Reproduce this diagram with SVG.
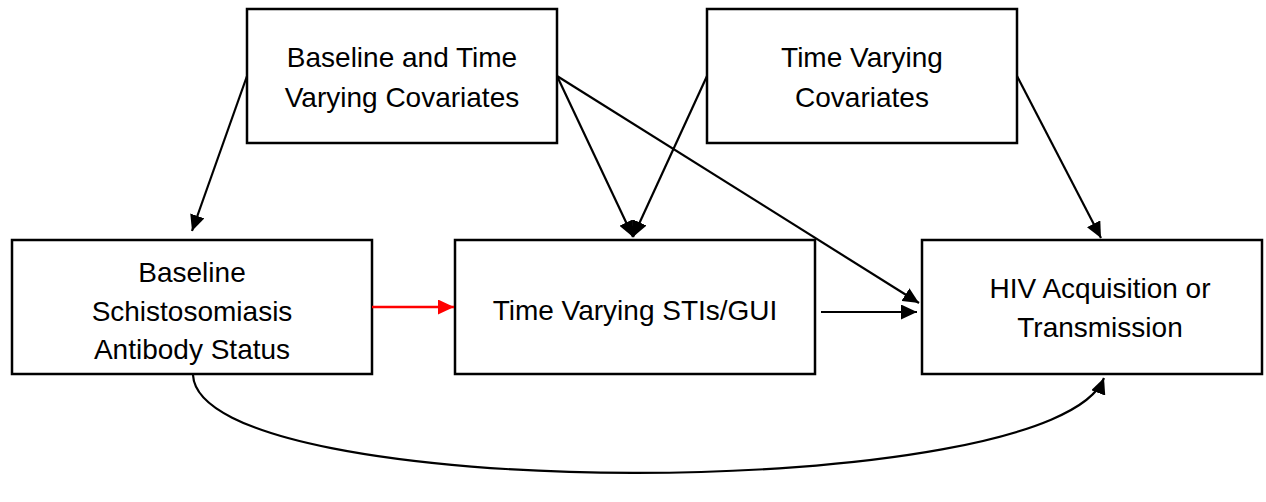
<svg xmlns="http://www.w3.org/2000/svg" width="1266" height="502" viewBox="0 0 1266 502">
<defs>
<style>
.box{fill:#fff;stroke:#000;stroke-width:2.5}
.lbl{font-family:"Liberation Sans",Arial,sans-serif;font-size:28px;fill:#000;text-anchor:middle}
.con{fill:none;stroke:#000;stroke-width:2.2}
.red{fill:none;stroke:#f00;stroke-width:2.4}
</style>
<marker id="ah" markerUnits="userSpaceOnUse" markerWidth="17" markerHeight="15" refX="16" refY="7.5" orient="auto"><path d="M0,0 L16,7.5 L0,15 z" fill="#000"/></marker>
<marker id="ahr" markerUnits="userSpaceOnUse" markerWidth="17" markerHeight="15" refX="16" refY="7.5" orient="auto"><path d="M0,0 L16,7.5 L0,15 z" fill="#f00"/></marker>
</defs>
<rect width="1266" height="502" fill="#fff"/>
<g id="n1"><rect class="box" x="247" y="9" width="310" height="134"/><text class="lbl" x="402" y="67">Baseline and Time</text><text class="lbl" x="402" y="107">Varying Covariates</text></g>
<g id="n2"><rect class="box" x="707" y="9" width="310" height="134"/><text class="lbl" x="862" y="67">Time Varying</text><text class="lbl" x="862" y="107">Covariates</text></g>
<g id="n3"><rect class="box" x="12" y="240" width="360" height="134"/><text class="lbl" x="192" y="282">Baseline</text><text class="lbl" x="192" y="321">Schistosomiasis</text><text class="lbl" x="192" y="359">Antibody Status</text></g>
<g id="n4"><rect class="box" x="455" y="240" width="360" height="134"/><text class="lbl" x="635" y="320">Time Varying STIs/GUI</text></g>
<g id="n5"><rect class="box" x="922" y="240" width="340" height="134"/><text class="lbl" x="1100" y="298">HIV Acquisition or</text><text class="lbl" x="1100" y="337">Transmission</text></g>
<g id="connectors">
<line class="con" x1="247" y1="76" x2="192" y2="231" marker-end="url(#ah)"/>
<line class="con" x1="557" y1="76" x2="633" y2="237" marker-end="url(#ah)"/>
<line class="con" x1="707" y1="76" x2="633" y2="237" marker-end="url(#ah)"/>
<line class="con" x1="557" y1="76" x2="919" y2="303" marker-end="url(#ah)"/>
<line class="con" x1="1017" y1="76" x2="1101" y2="238" marker-end="url(#ah)"/>
<line class="red" x1="372" y1="307" x2="454" y2="307" marker-end="url(#ahr)"/>
<line class="con" x1="821" y1="312" x2="917" y2="312" marker-end="url(#ah)"/>
<path class="con" d="M193,375 C200,505 1055,505 1104,378" marker-end="url(#ah)"/>
</g>
</svg>
